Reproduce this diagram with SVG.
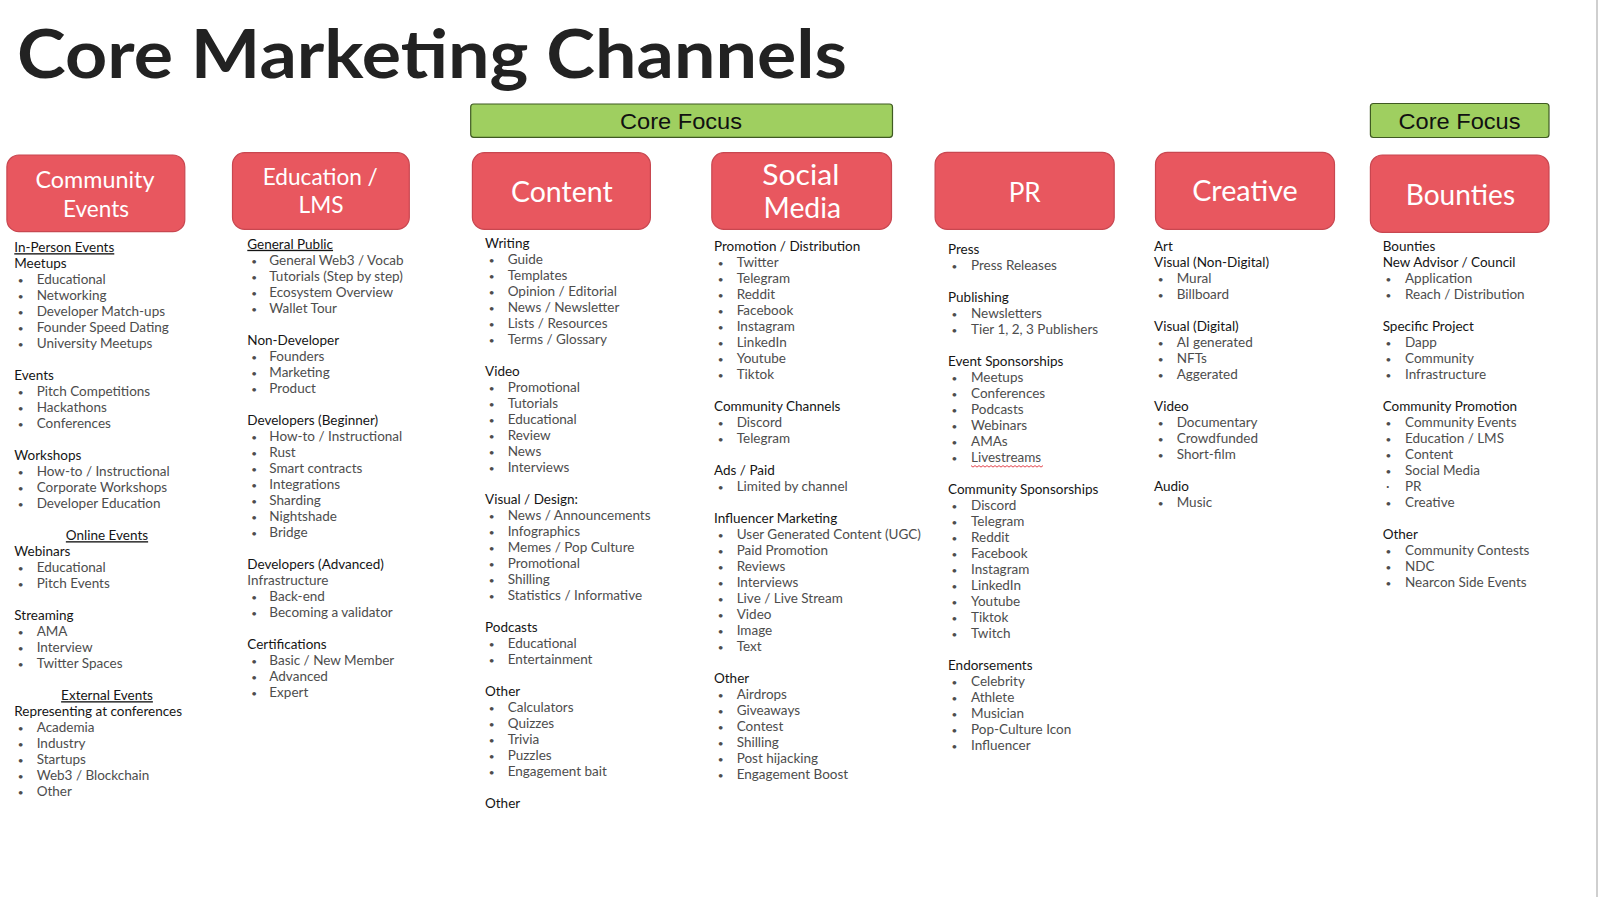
<svg xmlns="http://www.w3.org/2000/svg" width="1600" height="897" viewBox="0 0 1600 897">
<style>
.title{font-family:Lato,"Liberation Sans",sans-serif;font-weight:700;font-size:66px;fill:#222}
.box{fill:#E8575F;stroke:#C84750;stroke-width:1.2}
.focus{fill:#9FCF60;stroke:#3F5A22;stroke-width:1.2}
.ft{font-family:"Liberation Sans",Arial,sans-serif;font-size:22px;fill:#111;text-anchor:middle}
.bl{font-family:Lato,"Liberation Sans",sans-serif;fill:#fff;text-anchor:middle}
.h{font-family:Lato,"Liberation Sans",sans-serif;font-size:13.5px;fill:#151515}
.i{font-family:Lato,"Liberation Sans",sans-serif;font-size:13.5px;fill:#4d4d4d}
.d{font-size:10px}
.u{text-decoration:underline}
.c{text-anchor:middle}
</style>
<rect width="1600" height="897" fill="#fff"/>
<line x1="1597" y1="0" x2="1597" y2="897" stroke="#cfcfcf" stroke-width="2"/>
<text class="title" x="17" y="78" textLength="830" lengthAdjust="spacingAndGlyphs">Core Marketing Channels</text>

<g id="focus1"><rect class="focus" x="470.7" y="104" width="421.8" height="33.3" rx="3"/><text class="ft" x="681" y="129" textLength="122" lengthAdjust="spacingAndGlyphs">Core Focus</text></g>
<g id="focus2"><rect class="focus" x="1370.4" y="103.5" width="178.6" height="34" rx="3"/><text class="ft" x="1459.5" y="129" textLength="122" lengthAdjust="spacingAndGlyphs">Core Focus</text></g>

<g id="node-community-events"><rect class="box" x="6.9" y="155" width="177.9" height="76.7" rx="12"/>
<text class="bl" font-size="23" x="95" y="188.3" textLength="119" lengthAdjust="spacingAndGlyphs">Community</text>
<text class="bl" font-size="23" x="96" y="216.7" textLength="66" lengthAdjust="spacingAndGlyphs">Events</text></g>
<g id="node-education"><rect class="box" x="232.5" y="152.7" width="176.8" height="76.6" rx="12"/>
<text class="bl" font-size="23" x="320.3" y="185" textLength="115" lengthAdjust="spacingAndGlyphs">Education /</text>
<text class="bl" font-size="23" x="321" y="213.3" textLength="45" lengthAdjust="spacingAndGlyphs">LMS</text></g>
<g id="node-content"><rect class="box" x="472.4" y="152.7" width="178" height="76.6" rx="12"/>
<text class="bl" font-size="28" x="561.8" y="202.3" textLength="101.6" lengthAdjust="spacingAndGlyphs">Content</text></g>
<g id="node-social-media"><rect class="box" x="711.8" y="152.7" width="179.7" height="76.6" rx="12"/>
<text class="bl" font-size="29" x="800.8" y="185" textLength="77" lengthAdjust="spacingAndGlyphs">Social</text>
<text class="bl" font-size="29" x="802.3" y="218.3" textLength="77.5" lengthAdjust="spacingAndGlyphs">Media</text></g>
<g id="node-pr"><rect class="box" x="935.1" y="152.3" width="179.1" height="77" rx="12"/>
<text class="bl" font-size="27" x="1024.7" y="201.7" textLength="32" lengthAdjust="spacingAndGlyphs">PR</text></g>
<g id="node-creative"><rect class="box" x="1155.5" y="152.3" width="179" height="77" rx="12"/>
<text class="bl" font-size="28" x="1245" y="201" textLength="105.6" lengthAdjust="spacingAndGlyphs">Creative</text></g>
<g id="node-bounties"><rect class="box" x="1370.4" y="155" width="178.6" height="77.3" rx="12"/>
<text class="bl" font-size="28" x="1460.4" y="205" textLength="109.3" lengthAdjust="spacingAndGlyphs">Bounties</text></g>

<g id="list-community-events">
<text class="h u" x="14.3" y="252.2">In-Person Events</text>
<text class="h" x="14.3" y="268.2">Meetups</text>
<text class="i" y="284.2"><tspan class="d" x="17.8">•</tspan><tspan x="36.7">Educational</tspan></text>
<text class="i" y="300.2"><tspan class="d" x="17.8">•</tspan><tspan x="36.7">Networking</tspan></text>
<text class="i" y="316.2"><tspan class="d" x="17.8">•</tspan><tspan x="36.7">Developer Match-ups</tspan></text>
<text class="i" y="332.2"><tspan class="d" x="17.8">•</tspan><tspan x="36.7">Founder Speed Dating</tspan></text>
<text class="i" y="348.2"><tspan class="d" x="17.8">•</tspan><tspan x="36.7">University Meetups</tspan></text>
<text class="h" x="14.3" y="380.2">Events</text>
<text class="i" y="396.2"><tspan class="d" x="17.8">•</tspan><tspan x="36.7">Pitch Competitions</tspan></text>
<text class="i" y="412.2"><tspan class="d" x="17.8">•</tspan><tspan x="36.7">Hackathons</tspan></text>
<text class="i" y="428.2"><tspan class="d" x="17.8">•</tspan><tspan x="36.7">Conferences</tspan></text>
<text class="h" x="14.3" y="460.2">Workshops</text>
<text class="i" y="476.2"><tspan class="d" x="17.8">•</tspan><tspan x="36.7">How-to / Instructional</tspan></text>
<text class="i" y="492.2"><tspan class="d" x="17.8">•</tspan><tspan x="36.7">Corporate Workshops</tspan></text>
<text class="i" y="508.2"><tspan class="d" x="17.8">•</tspan><tspan x="36.7">Developer Education</tspan></text>
<text class="h u c" x="107" y="540.2">Online Events</text>
<text class="h" x="14.3" y="556.2">Webinars</text>
<text class="i" y="572.2"><tspan class="d" x="17.8">•</tspan><tspan x="36.7">Educational</tspan></text>
<text class="i" y="588.2"><tspan class="d" x="17.8">•</tspan><tspan x="36.7">Pitch Events</tspan></text>
<text class="h" x="14.3" y="620.2">Streaming</text>
<text class="i" y="636.2"><tspan class="d" x="17.8">•</tspan><tspan x="36.7">AMA</tspan></text>
<text class="i" y="652.2"><tspan class="d" x="17.8">•</tspan><tspan x="36.7">Interview</tspan></text>
<text class="i" y="668.2"><tspan class="d" x="17.8">•</tspan><tspan x="36.7">Twitter Spaces</tspan></text>
<text class="h u c" x="107" y="700.2">External Events</text>
<text class="h" x="14.3" y="716.2">Representing at conferences</text>
<text class="i" y="732.2"><tspan class="d" x="17.8">•</tspan><tspan x="36.7">Academia</tspan></text>
<text class="i" y="748.2"><tspan class="d" x="17.8">•</tspan><tspan x="36.7">Industry</tspan></text>
<text class="i" y="764.2"><tspan class="d" x="17.8">•</tspan><tspan x="36.7">Startups</tspan></text>
<text class="i" y="780.2"><tspan class="d" x="17.8">•</tspan><tspan x="36.7">Web3 / Blockchain</tspan></text>
<text class="i" y="796.2"><tspan class="d" x="17.8">•</tspan><tspan x="36.7">Other</tspan></text>
</g>

<g id="list-education">
<text class="h u" x="247.3" y="248.8">General Public</text>
<text class="i" y="264.8"><tspan class="d" x="251.2">•</tspan><tspan x="269.3">General Web3 / Vocab</tspan></text>
<text class="i" y="280.8"><tspan class="d" x="251.2">•</tspan><tspan x="269.3">Tutorials (Step by step)</tspan></text>
<text class="i" y="296.8"><tspan class="d" x="251.2">•</tspan><tspan x="269.3">Ecosystem Overview</tspan></text>
<text class="i" y="312.8"><tspan class="d" x="251.2">•</tspan><tspan x="269.3">Wallet Tour</tspan></text>
<text class="h" x="247.3" y="344.8">Non-Developer</text>
<text class="i" y="360.8"><tspan class="d" x="251.2">•</tspan><tspan x="269.3">Founders</tspan></text>
<text class="i" y="376.8"><tspan class="d" x="251.2">•</tspan><tspan x="269.3">Marketing</tspan></text>
<text class="i" y="392.8"><tspan class="d" x="251.2">•</tspan><tspan x="269.3">Product</tspan></text>
<text class="h" x="247.3" y="424.8">Developers (Beginner)</text>
<text class="i" y="440.8"><tspan class="d" x="251.2">•</tspan><tspan x="269.3">How-to / Instructional</tspan></text>
<text class="i" y="456.8"><tspan class="d" x="251.2">•</tspan><tspan x="269.3">Rust</tspan></text>
<text class="i" y="472.8"><tspan class="d" x="251.2">•</tspan><tspan x="269.3">Smart contracts</tspan></text>
<text class="i" y="488.8"><tspan class="d" x="251.2">•</tspan><tspan x="269.3">Integrations</tspan></text>
<text class="i" y="504.8"><tspan class="d" x="251.2">•</tspan><tspan x="269.3">Sharding</tspan></text>
<text class="i" y="520.8"><tspan class="d" x="251.2">•</tspan><tspan x="269.3">Nightshade</tspan></text>
<text class="i" y="536.8"><tspan class="d" x="251.2">•</tspan><tspan x="269.3">Bridge</tspan></text>
<text class="h" x="247.3" y="568.8">Developers (Advanced)</text>
<text class="i" x="247.3" y="584.8">Infrastructure</text>
<text class="i" y="600.8"><tspan class="d" x="251.2">•</tspan><tspan x="269.3">Back-end</tspan></text>
<text class="i" y="616.8"><tspan class="d" x="251.2">•</tspan><tspan x="269.3">Becoming a validator</tspan></text>
<text class="h" x="247.3" y="648.8">Certifications</text>
<text class="i" y="664.8"><tspan class="d" x="251.2">•</tspan><tspan x="269.3">Basic / New Member</tspan></text>
<text class="i" y="680.8"><tspan class="d" x="251.2">•</tspan><tspan x="269.3">Advanced</tspan></text>
<text class="i" y="696.8"><tspan class="d" x="251.2">•</tspan><tspan x="269.3">Expert</tspan></text>
</g>

<g id="list-content">
<text class="h" x="485" y="247.8">Writing</text>
<text class="i" y="263.8"><tspan class="d" x="488.8">•</tspan><tspan x="507.7">Guide</tspan></text>
<text class="i" y="279.8"><tspan class="d" x="488.8">•</tspan><tspan x="507.7">Templates</tspan></text>
<text class="i" y="295.8"><tspan class="d" x="488.8">•</tspan><tspan x="507.7">Opinion / Editorial</tspan></text>
<text class="i" y="311.8"><tspan class="d" x="488.8">•</tspan><tspan x="507.7">News / Newsletter</tspan></text>
<text class="i" y="327.8"><tspan class="d" x="488.8">•</tspan><tspan x="507.7">Lists / Resources</tspan></text>
<text class="i" y="343.8"><tspan class="d" x="488.8">•</tspan><tspan x="507.7">Terms / Glossary</tspan></text>
<text class="h" x="485" y="375.8">Video</text>
<text class="i" y="391.8"><tspan class="d" x="488.8">•</tspan><tspan x="507.7">Promotional</tspan></text>
<text class="i" y="407.8"><tspan class="d" x="488.8">•</tspan><tspan x="507.7">Tutorials</tspan></text>
<text class="i" y="423.8"><tspan class="d" x="488.8">•</tspan><tspan x="507.7">Educational</tspan></text>
<text class="i" y="439.8"><tspan class="d" x="488.8">•</tspan><tspan x="507.7">Review</tspan></text>
<text class="i" y="455.8"><tspan class="d" x="488.8">•</tspan><tspan x="507.7">News</tspan></text>
<text class="i" y="471.8"><tspan class="d" x="488.8">•</tspan><tspan x="507.7">Interviews</tspan></text>
<text class="h" x="485" y="503.8">Visual / Design:</text>
<text class="i" y="519.8"><tspan class="d" x="488.8">•</tspan><tspan x="507.7">News / Announcements</tspan></text>
<text class="i" y="535.8"><tspan class="d" x="488.8">•</tspan><tspan x="507.7">Infographics</tspan></text>
<text class="i" y="551.8"><tspan class="d" x="488.8">•</tspan><tspan x="507.7">Memes / Pop Culture</tspan></text>
<text class="i" y="567.8"><tspan class="d" x="488.8">•</tspan><tspan x="507.7">Promotional</tspan></text>
<text class="i" y="583.8"><tspan class="d" x="488.8">•</tspan><tspan x="507.7">Shilling</tspan></text>
<text class="i" y="599.8"><tspan class="d" x="488.8">•</tspan><tspan x="507.7">Statistics / Informative</tspan></text>
<text class="h" x="485" y="631.8">Podcasts</text>
<text class="i" y="647.8"><tspan class="d" x="488.8">•</tspan><tspan x="507.7">Educational</tspan></text>
<text class="i" y="663.8"><tspan class="d" x="488.8">•</tspan><tspan x="507.7">Entertainment</tspan></text>
<text class="h" x="485" y="695.8">Other</text>
<text class="i" y="711.8"><tspan class="d" x="488.8">•</tspan><tspan x="507.7">Calculators</tspan></text>
<text class="i" y="727.8"><tspan class="d" x="488.8">•</tspan><tspan x="507.7">Quizzes</tspan></text>
<text class="i" y="743.8"><tspan class="d" x="488.8">•</tspan><tspan x="507.7">Trivia</tspan></text>
<text class="i" y="759.8"><tspan class="d" x="488.8">•</tspan><tspan x="507.7">Puzzles</tspan></text>
<text class="i" y="775.8"><tspan class="d" x="488.8">•</tspan><tspan x="507.7">Engagement bait</tspan></text>
<text class="h" x="485" y="807.8">Other</text>
</g>

<g id="list-social-media">
<text class="h" x="714" y="251.3">Promotion / Distribution</text>
<text class="i" y="267.3"><tspan class="d" x="717.8">•</tspan><tspan x="736.7">Twitter</tspan></text>
<text class="i" y="283.3"><tspan class="d" x="717.8">•</tspan><tspan x="736.7">Telegram</tspan></text>
<text class="i" y="299.3"><tspan class="d" x="717.8">•</tspan><tspan x="736.7">Reddit</tspan></text>
<text class="i" y="315.3"><tspan class="d" x="717.8">•</tspan><tspan x="736.7">Facebook</tspan></text>
<text class="i" y="331.3"><tspan class="d" x="717.8">•</tspan><tspan x="736.7">Instagram</tspan></text>
<text class="i" y="347.3"><tspan class="d" x="717.8">•</tspan><tspan x="736.7">LinkedIn</tspan></text>
<text class="i" y="363.3"><tspan class="d" x="717.8">•</tspan><tspan x="736.7">Youtube</tspan></text>
<text class="i" y="379.3"><tspan class="d" x="717.8">•</tspan><tspan x="736.7">Tiktok</tspan></text>
<text class="h" x="714" y="411.3">Community Channels</text>
<text class="i" y="427.3"><tspan class="d" x="717.8">•</tspan><tspan x="736.7">Discord</tspan></text>
<text class="i" y="443.3"><tspan class="d" x="717.8">•</tspan><tspan x="736.7">Telegram</tspan></text>
<text class="h" x="714" y="475.3">Ads / Paid</text>
<text class="i" y="491.3"><tspan class="d" x="717.8">•</tspan><tspan x="736.7">Limited by channel</tspan></text>
<text class="h" x="714" y="523.3">Influencer Marketing</text>
<text class="i" y="539.3"><tspan class="d" x="717.8">•</tspan><tspan x="736.7">User Generated Content (UGC)</tspan></text>
<text class="i" y="555.3"><tspan class="d" x="717.8">•</tspan><tspan x="736.7">Paid Promotion</tspan></text>
<text class="i" y="571.3"><tspan class="d" x="717.8">•</tspan><tspan x="736.7">Reviews</tspan></text>
<text class="i" y="587.3"><tspan class="d" x="717.8">•</tspan><tspan x="736.7">Interviews</tspan></text>
<text class="i" y="603.3"><tspan class="d" x="717.8">•</tspan><tspan x="736.7">Live / Live Stream</tspan></text>
<text class="i" y="619.3"><tspan class="d" x="717.8">•</tspan><tspan x="736.7">Video</tspan></text>
<text class="i" y="635.3"><tspan class="d" x="717.8">•</tspan><tspan x="736.7">Image</tspan></text>
<text class="i" y="651.3"><tspan class="d" x="717.8">•</tspan><tspan x="736.7">Text</tspan></text>
<text class="h" x="714" y="683.3">Other</text>
<text class="i" y="699.3"><tspan class="d" x="717.8">•</tspan><tspan x="736.7">Airdrops</tspan></text>
<text class="i" y="715.3"><tspan class="d" x="717.8">•</tspan><tspan x="736.7">Giveaways</tspan></text>
<text class="i" y="731.3"><tspan class="d" x="717.8">•</tspan><tspan x="736.7">Contest</tspan></text>
<text class="i" y="747.3"><tspan class="d" x="717.8">•</tspan><tspan x="736.7">Shilling</tspan></text>
<text class="i" y="763.3"><tspan class="d" x="717.8">•</tspan><tspan x="736.7">Post hijacking</tspan></text>
<text class="i" y="779.3"><tspan class="d" x="717.8">•</tspan><tspan x="736.7">Engagement Boost</tspan></text>
</g>

<g id="list-pr">
<text class="h" x="948" y="254">Press</text>
<text class="i" y="270"><tspan class="d" x="951.5">•</tspan><tspan x="971">Press Releases</tspan></text>
<text class="h" x="948" y="302">Publishing</text>
<text class="i" y="318"><tspan class="d" x="951.5">•</tspan><tspan x="971">Newsletters</tspan></text>
<text class="i" y="334"><tspan class="d" x="951.5">•</tspan><tspan x="971">Tier 1, 2, 3 Publishers</tspan></text>
<text class="h" x="948" y="366">Event Sponsorships</text>
<text class="i" y="382"><tspan class="d" x="951.5">•</tspan><tspan x="971">Meetups</tspan></text>
<text class="i" y="398"><tspan class="d" x="951.5">•</tspan><tspan x="971">Conferences</tspan></text>
<text class="i" y="414"><tspan class="d" x="951.5">•</tspan><tspan x="971">Podcasts</tspan></text>
<text class="i" y="430"><tspan class="d" x="951.5">•</tspan><tspan x="971">Webinars</tspan></text>
<text class="i" y="446"><tspan class="d" x="951.5">•</tspan><tspan x="971">AMAs</tspan></text>
<text class="i" y="462"><tspan class="d" x="951.5">•</tspan><tspan x="971">Livestreams</tspan></text>
<path d="M971 465.6 l2 1.5 l2 -1.5 l2 1.5 l2 -1.5 l2 1.5 l2 -1.5 l2 1.5 l2 -1.5 l2 1.5 l2 -1.5 l2 1.5 l2 -1.5 l2 1.5 l2 -1.5 l2 1.5 l2 -1.5 l2 1.5 l2 -1.5 l2 1.5 l2 -1.5 l2 1.5 l2 -1.5 l2 1.5 l2 -1.5 l2 1.5 l2 -1.5 l2 1.5 l2 -1.5 l2 1.5 l2 -1.5 l2 1.5 l2 -1.5 l2 1.5 l2 -1.5 l2 1.5 l2 -1.5" fill="none" stroke="#e0323c" stroke-width="0.9"/>
<text class="h" x="948" y="494">Community Sponsorships</text>
<text class="i" y="510"><tspan class="d" x="951.5">•</tspan><tspan x="971">Discord</tspan></text>
<text class="i" y="526"><tspan class="d" x="951.5">•</tspan><tspan x="971">Telegram</tspan></text>
<text class="i" y="542"><tspan class="d" x="951.5">•</tspan><tspan x="971">Reddit</tspan></text>
<text class="i" y="558"><tspan class="d" x="951.5">•</tspan><tspan x="971">Facebook</tspan></text>
<text class="i" y="574"><tspan class="d" x="951.5">•</tspan><tspan x="971">Instagram</tspan></text>
<text class="i" y="590"><tspan class="d" x="951.5">•</tspan><tspan x="971">LinkedIn</tspan></text>
<text class="i" y="606"><tspan class="d" x="951.5">•</tspan><tspan x="971">Youtube</tspan></text>
<text class="i" y="622"><tspan class="d" x="951.5">•</tspan><tspan x="971">Tiktok</tspan></text>
<text class="i" y="638"><tspan class="d" x="951.5">•</tspan><tspan x="971">Twitch</tspan></text>
<text class="h" x="948" y="670">Endorsements</text>
<text class="i" y="686"><tspan class="d" x="951.5">•</tspan><tspan x="971">Celebrity</tspan></text>
<text class="i" y="702"><tspan class="d" x="951.5">•</tspan><tspan x="971">Athlete</tspan></text>
<text class="i" y="718"><tspan class="d" x="951.5">•</tspan><tspan x="971">Musician</tspan></text>
<text class="i" y="734"><tspan class="d" x="951.5">•</tspan><tspan x="971">Pop-Culture Icon</tspan></text>
<text class="i" y="750"><tspan class="d" x="951.5">•</tspan><tspan x="971">Influencer</tspan></text>
</g>

<g id="list-creative">
<text class="h" x="1154" y="250.8">Art</text>
<text class="h" x="1154" y="266.8">Visual (Non-Digital)</text>
<text class="i" y="282.8"><tspan class="d" x="1157.8">•</tspan><tspan x="1176.7">Mural</tspan></text>
<text class="i" y="298.8"><tspan class="d" x="1157.8">•</tspan><tspan x="1176.7">Billboard</tspan></text>
<text class="h" x="1154" y="330.8">Visual (Digital)</text>
<text class="i" y="346.8"><tspan class="d" x="1157.8">•</tspan><tspan x="1176.7">AI generated</tspan></text>
<text class="i" y="362.8"><tspan class="d" x="1157.8">•</tspan><tspan x="1176.7">NFTs</tspan></text>
<text class="i" y="378.8"><tspan class="d" x="1157.8">•</tspan><tspan x="1176.7">Aggerated</tspan></text>
<text class="h" x="1154" y="410.8">Video</text>
<text class="i" y="426.8"><tspan class="d" x="1157.8">•</tspan><tspan x="1176.7">Documentary</tspan></text>
<text class="i" y="442.8"><tspan class="d" x="1157.8">•</tspan><tspan x="1176.7">Crowdfunded</tspan></text>
<text class="i" y="458.8"><tspan class="d" x="1157.8">•</tspan><tspan x="1176.7">Short-film</tspan></text>
<text class="h" x="1154" y="490.8">Audio</text>
<text class="i" y="506.8"><tspan class="d" x="1157.8">•</tspan><tspan x="1176.7">Music</tspan></text>
</g>

<g id="list-bounties">
<text class="h" x="1382.7" y="250.8">Bounties</text>
<text class="h" x="1382.7" y="266.8">New Advisor / Council</text>
<text class="i" y="282.8"><tspan class="d" x="1385.5">•</tspan><tspan x="1405">Application</tspan></text>
<text class="i" y="298.8"><tspan class="d" x="1385.5">•</tspan><tspan x="1405">Reach / Distribution</tspan></text>
<text class="h" x="1382.7" y="330.8">Specific Project</text>
<text class="i" y="346.8"><tspan class="d" x="1385.5">•</tspan><tspan x="1405">Dapp</tspan></text>
<text class="i" y="362.8"><tspan class="d" x="1385.5">•</tspan><tspan x="1405">Community</tspan></text>
<text class="i" y="378.8"><tspan class="d" x="1385.5">•</tspan><tspan x="1405">Infrastructure</tspan></text>
<text class="h" x="1382.7" y="410.8">Community Promotion</text>
<text class="i" y="426.8"><tspan class="d" x="1385.5">•</tspan><tspan x="1405">Community Events</tspan></text>
<text class="i" y="442.8"><tspan class="d" x="1385.5">•</tspan><tspan x="1405">Education / LMS</tspan></text>
<text class="i" y="458.8"><tspan class="d" x="1385.5">•</tspan><tspan x="1405">Content</tspan></text>
<text class="i" y="474.8"><tspan class="d" x="1385.5">•</tspan><tspan x="1405">Social Media</tspan></text>
<text class="i" y="490.8"><tspan x="1386">·</tspan><tspan x="1405">PR</tspan></text>
<text class="i" y="506.8"><tspan class="d" x="1385.5">•</tspan><tspan x="1405">Creative</tspan></text>
<text class="h" x="1382.7" y="538.8">Other</text>
<text class="i" y="554.8"><tspan class="d" x="1385.5">•</tspan><tspan x="1405">Community Contests</tspan></text>
<text class="i" y="570.8"><tspan class="d" x="1385.5">•</tspan><tspan x="1405">NDC</tspan></text>
<text class="i" y="586.8"><tspan class="d" x="1385.5">•</tspan><tspan x="1405">Nearcon Side Events</tspan></text>
</g>

<g id="connectors"></g>
</svg>
